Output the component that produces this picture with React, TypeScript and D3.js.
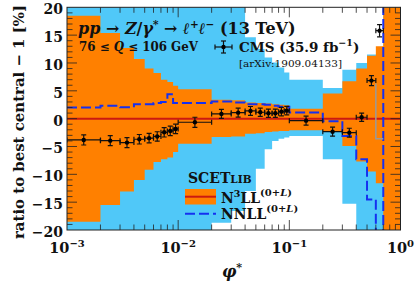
import React from 'react';
import * as d3 from 'd3';

// phi* bin edges
const binEdges = [0.001, 0.002, 0.003, 0.004, 0.005, 0.006, 0.007, 0.008, 0.009, 0.01,
  0.02, 0.03, 0.04, 0.05, 0.06, 0.07, 0.08, 0.09, 0.1,
  0.2, 0.3, 0.4, 0.5, 0.6, 0.7, 1.0];

// N3LL band (percent), per bin
const n3llUp = [18.5, 15.4, 12.7, 10.7, 9.0, 8.2, 7.0, 6.6, 5.9,
  5.3, 3.4, 3.3, 2.9, 2.8, 2.7, 2.6, 2.5, 2.4,
  1.8, 4.5, 6.7, 9.0, 11.3, 13.0, 30];
const n3llLo = [-18.5, -15.5, -13.1, -11.0, -9.2, -7.8, -7.3, -7.0, -6.0,
  -4.5, -3.3, -3.2, -2.7, -2.6, -2.4, -2.3, -2.2, -2.2,
  -2.1, -2.3, -4.9, -7.7, -9.5, -11.6, -30];

// NNLL band
const nnllUp = [30, 30, 30, 30, 30, 30, 30, 30, 30,
  30, 30, 30, 14.6, 12.5, 11.0, 10.1, 9.2, 8.3,
  7.0, 5.5, 8.8, 10.0, 11.5, 11.5, 30];
const nnllLo = [-30, -30, -30, -30, -30, -30, -30, -30, -30,
  -30, -18.7, -16.6, -13.0, -9.0, -5.5, -4.0, -3.6, -3.4,
  -3.1, -7.3, -15.3, -30, -30, -30, -30];
const nnllCentral = [2.0, 2.3, 2.05, 2.6, 2.6, 2.8, 3.0, 4.4, 2.8,
  2.8, 3.1, 2.9, 2.6, 2.6, 2.5, 2.3, 2.15, 2.15,
  1.1, -0.45, -3.1, -7.3, -14.5, -30, 30];

// CMS data (first 24 bins)
const cmsVals = [-3.83, -3.95, -4.3, -3.7, -3.5, -3.2, -2.45, -2.2, -1.85,
  -0.65, 0.85, 1.08, 1.38, 1.15, 0.97, 0.97, 1.26, 1.44,
  -0.36, -2.34, -2.52, 0.25, 6.83, 15.8];
const cmsErr = [0.9, 0.9, 0.9, 0.85, 0.85, 0.85, 0.85, 0.85, 0.85,
  0.9, 0.8, 0.8, 0.8, 0.75, 0.75, 0.75, 0.75, 0.75,
  0.8, 0.8, 0.8, 0.75, 0.9, 1.1];

const yTicks = [20, 15, 10, 5, 0, -5, -10, -15, -20];
const xDecades = [{ v: 1e-3, e: '−3' }, { v: 1e-2, e: '−2' }, { v: 1e-1, e: '−1' }, { v: 1, e: '0' }];

const ORANGE = '#FF8000';
const LBLUE = '#50C8F8';
const RED = '#CC1A10';
const DBLUE = '#1530F0';
const FONT = 'DejaVu Serif';

export default function App() {
  const L = 67, R = 400.5, T = 7.3, B = 230;
  const x = d3.scaleLog().domain([1e-3, 1]).range([L, R]);
  const y = d3.scaleLinear().domain([-20, 20]).range([B, T]);

  const stepPts = (up: number[], lo?: number[]) => {
    const pts: { x: number; u: number; l: number }[] = [];
    up.forEach((u, i) => {
      const l = lo ? lo[i] : 0;
      pts.push({ x: binEdges[i], u, l });
      pts.push({ x: binEdges[i + 1], u, l });
    });
    return pts;
  };
  const area = d3.area<{ x: number; u: number; l: number }>()
    .x(d => x(d.x)).y0(d => y(d.l)).y1(d => y(d.u));
  const line = d3.line<{ x: number; u: number; l: number }>()
    .x(d => x(d.x)).y(d => y(d.u));

  const nnllPath = area(stepPts(nnllUp, nnllLo)) || '';
  const n3llPath = area(stepPts(n3llUp, n3llLo)) || '';
  const nnllLine = line(stepPts(nnllCentral)) || '';

  // ticks
  const yMinor = d3.range(-20, 21, 1);
  const xMinor: number[] = [];
  [1e-3, 1e-2, 1e-1].forEach(d => { for (let k = 1; k <= 9; k++) xMinor.push(d * k); });
  xMinor.push(1);

  const tickCol = '#222';
  const ticks: JSX.Element[] = [];
  yMinor.forEach(v => {
    const len = v % 5 === 0 ? 10 : 5.5;
    if (v === 20 || v === -20) return;
    ticks.push(<line key={'yl' + v} x1={L} x2={L + len} y1={y(v)} y2={y(v)} stroke={tickCol} strokeWidth={0.8} />);
    ticks.push(<line key={'yr' + v} x1={R} x2={R - len} y1={y(v)} y2={y(v)} stroke={tickCol} strokeWidth={0.8} />);
  });
  xMinor.forEach((v, i) => {
    const major = Math.abs(Math.log10(v) - Math.round(Math.log10(v))) < 1e-9;
    const len = major ? 10 : 5.5;
    if (v === 1e-3 || v === 1) return;
    ticks.push(<line key={'xb' + i} x1={x(v)} x2={x(v)} y1={B} y2={B - len} stroke={tickCol} strokeWidth={0.8} />);
    ticks.push(<line key={'xt' + i} x1={x(v)} x2={x(v)} y1={T} y2={T + len} stroke={tickCol} strokeWidth={0.8} />);
  });

  const pts = cmsVals.map((v, i) => {
    const x0 = binEdges[i], x1 = binEdges[i + 1];
    return { x0, x1, xc: Math.sqrt(x0 * x1), v, e: cmsErr[i] };
  });

  return (
    <svg width={415} height={286} style={{ position: 'absolute', left: 0, top: 0, background: '#fff' }}
      fontFamily={FONT}>
      <defs>
        <clipPath id="plot"><rect x={L} y={T} width={R - L} height={B - T} /></clipPath>
      </defs>
      <g clipPath="url(#plot)">
        <path d={nnllPath} fill={LBLUE} />
        <path d={n3llPath} fill={ORANGE} />
        <line x1={L} x2={R} y1={y(0)} y2={y(0)} stroke={RED} strokeWidth={2} />
        <path d={nnllLine} fill="none" stroke={DBLUE} strokeWidth={2} strokeDasharray="10,4" />
        <polyline points={`${x(0.6)},${y(6.3)} ${x(0.6)},${y(-3.6)} ${x(0.7)},${y(-3.6)}`}
          fill="none" stroke="#9a9a9a" strokeWidth={1.5} />
        {pts.map((p, i) => (
          <g key={i} stroke="#111" strokeWidth={1.2}>
            <line x1={x(p.x0)} x2={x(p.x1)} y1={y(p.v)} y2={y(p.v)} />
            <line x1={x(p.x0)} x2={x(p.x0)} y1={y(p.v) - 2.5} y2={y(p.v) + 2.5} />
            <line x1={x(p.x1)} x2={x(p.x1)} y1={y(p.v) - 2.5} y2={y(p.v) + 2.5} />
            <line x1={x(p.xc)} x2={x(p.xc)} y1={y(p.v - p.e)} y2={y(p.v + p.e)} />
            <line x1={x(p.xc) - 2.5} x2={x(p.xc) + 2.5} y1={y(p.v - p.e)} y2={y(p.v - p.e)} />
            <line x1={x(p.xc) - 2.5} x2={x(p.xc) + 2.5} y1={y(p.v + p.e)} y2={y(p.v + p.e)} />
            <circle cx={x(p.xc)} cy={y(p.v)} r={2.2} fill="#000" stroke="none" />
          </g>
        ))}
      </g>
      {ticks}
      <rect x={L} y={T} width={R - L} height={B - T} fill="none" stroke="#222" strokeWidth={1} />

      {/* y tick labels */}
      {yTicks.map(v => (
        <text key={v} x={63} y={y(v) + 2} textAnchor="end" dominantBaseline="central"
          fontSize={14} fontWeight="bold" fill="#111">{v < 0 ? '−' + Math.abs(v) : String(v)}</text>
      ))}
      {/* x tick labels */}
      {xDecades.map(d => (
        <text key={d.e} x={x(d.v)} y={252.5} textAnchor="middle" fontSize={14.5} fontWeight="bold" fill="#111">
          10<tspan dy={-6} fontSize={10}>{d.e}</tspan>
        </text>
      ))}
      {/* axis labels */}
      <text x={232} y={277} textAnchor="middle" fontSize={16} fontStyle="italic" fontWeight="bold" fill="#111">
        φ<tspan dy={-6} fontSize={11}>*</tspan>
      </text>
      <text transform="translate(24,122) rotate(-90)" textAnchor="middle" fontSize={15} fontWeight="bold"
        fill="#111" textLength={234} lengthAdjust="spacingAndGlyphs">ratio to best central − 1 [%]</text>

      {/* process label */}
      <text x={78} y={34} fontSize={16} fontWeight="bold" fill="#111">
        <tspan fontStyle="italic">pp</tspan> → <tspan fontStyle="italic">Z</tspan>/<tspan fontStyle="italic">γ</tspan>
        <tspan dy={-6} fontSize={10.5}>*</tspan><tspan dy={6}> → </tspan><tspan fontStyle="italic">ℓ</tspan>
        <tspan dy={-6} fontSize={10.5}>+</tspan><tspan dy={6} fontStyle="italic">ℓ</tspan>
        <tspan dy={-6} fontSize={10.5}>−</tspan><tspan dy={6}> (13 TeV)</tspan>
      </text>
      <text x={79} y={51} fontSize={12} fontWeight="bold" fill="#111" textLength={119} lengthAdjust="spacingAndGlyphs">
        76 ≤ <tspan fontStyle="italic">Q</tspan> ≤ 106 GeV
      </text>

      {/* CMS legend */}
      <g stroke="#111" strokeWidth={1.2}>
        <line x1={215} x2={232} y1={47} y2={47} />
        <line x1={215} x2={215} y1={44.5} y2={49.5} />
        <line x1={232} x2={232} y1={44.5} y2={49.5} />
        <line x1={223.5} x2={223.5} y1={41} y2={53} />
        <line x1={221} x2={226} y1={41} y2={41} />
        <line x1={221} x2={226} y1={53} y2={53} />
        <circle cx={223.5} cy={47} r={2.2} fill="#000" stroke="none" />
      </g>
      <text x={239} y={52} fontSize={13.5} fontWeight="bold" fill="#111">
        CMS (35.9 fb<tspan dy={-6} fontSize={9.5}>−1</tspan><tspan dy={6}>)</tspan>
      </text>
      <text x={239} y={67} fontSize={9.5} fill="#111" textLength={103} lengthAdjust="spacingAndGlyphs">[arXiv:1909.04133]</text>

      {/* SCETlib legend */}
      <text x={188} y={183} fontSize={14} fontWeight="bold" fill="#111">SCET<tspan fontSize={10.5}>LIB</tspan></text>
      <rect x={185} y={189} width={31} height={15.5} fill={ORANGE} />
      <line x1={185} x2={216} y1={196.7} y2={196.7} stroke={RED} strokeWidth={2} />
      <text x={221} y={203} fontSize={14} fontWeight="bold" fill="#111">
        N<tspan dy={-6} fontSize={9.5}>3</tspan><tspan dy={6}>LL</tspan>
        <tspan dy={-7} fontSize={10}>(0+<tspan fontStyle="italic">L</tspan>)</tspan>
      </text>
      <line x1={185} x2={216} y1={213.7} y2={213.7} stroke={DBLUE} strokeWidth={2} strokeDasharray="10,4" />
      <text x={221} y={218.5} fontSize={14} fontWeight="bold" fill="#111">
        NNLL<tspan dy={-7} fontSize={10}>(0+<tspan fontStyle="italic">L</tspan>)</tspan>
      </text>
    </svg>
  );
}
